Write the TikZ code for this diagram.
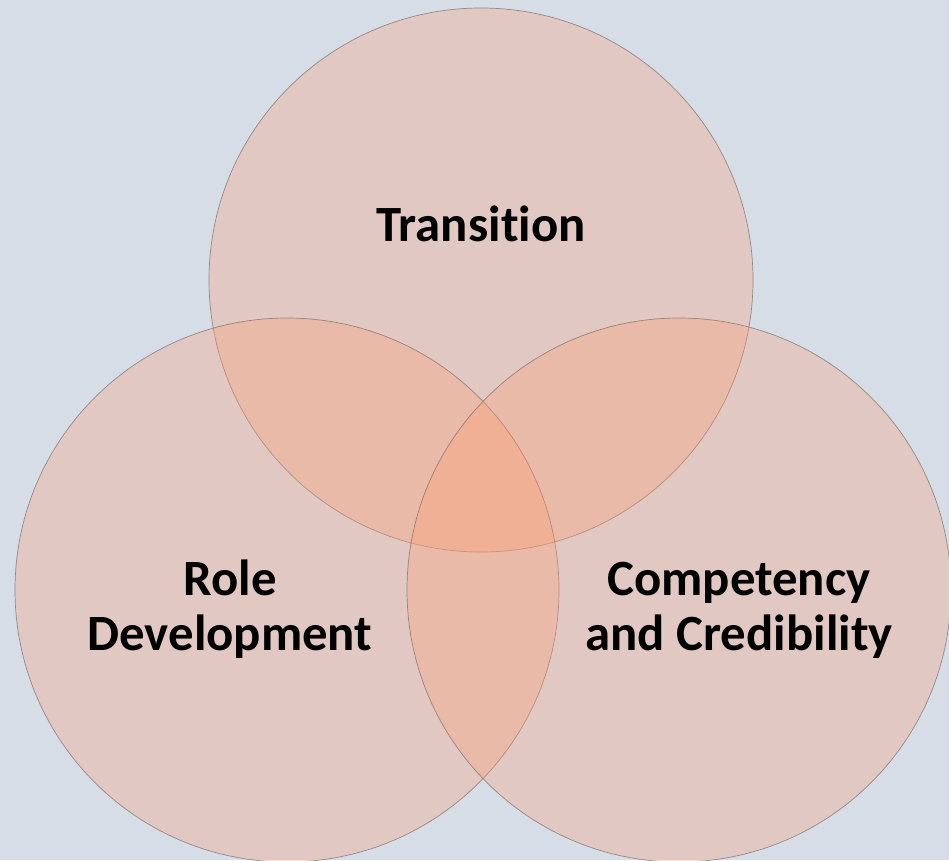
\documentclass[tikz,border=0pt]{standalone}
\usepackage{fontspec}
\setmainfont{Carlito}[Ligatures={NoCommon,NoRare}]
\definecolor{bgblue}{RGB}{214,221,231}
\definecolor{petal}{RGB}{255,155,112}
\definecolor{rim}{RGB}{120,105,100}
\begin{document}
\begin{tikzpicture}[x=1pt,y=-1pt,
  venn/.style={circle, minimum size=544pt, inner sep=0pt,
    fill=petal, fill opacity=0.31, draw=rim, draw opacity=0.7, line width=0.7pt},
  label/.style={font=\fontsize{50.8}{55}\selectfont\bfseries, align=center,
    text=black, inner sep=0pt}]
  % canvas
  \fill[bgblue] (0,0) rectangle (949,860);
  \useasboundingbox (0,0) rectangle (949,860);
  % the three overlapping sets
  \node[venn] (top)   at (481,280) {};
  \node[venn] (left)  at (287,590) {};
  \node[venn] (right) at (679,590) {};
  % set labels (base anchor sits on the last line)
  \node[label, anchor=base] (ttrans) at (481,241) {Transition};
  \node[label, anchor=base] (trole)  at (230,650) {Role\\Development};
  \node[label, anchor=base] (tcomp)  at (739,650) {Competency\\and Credibility};
\end{tikzpicture}
\end{document}
